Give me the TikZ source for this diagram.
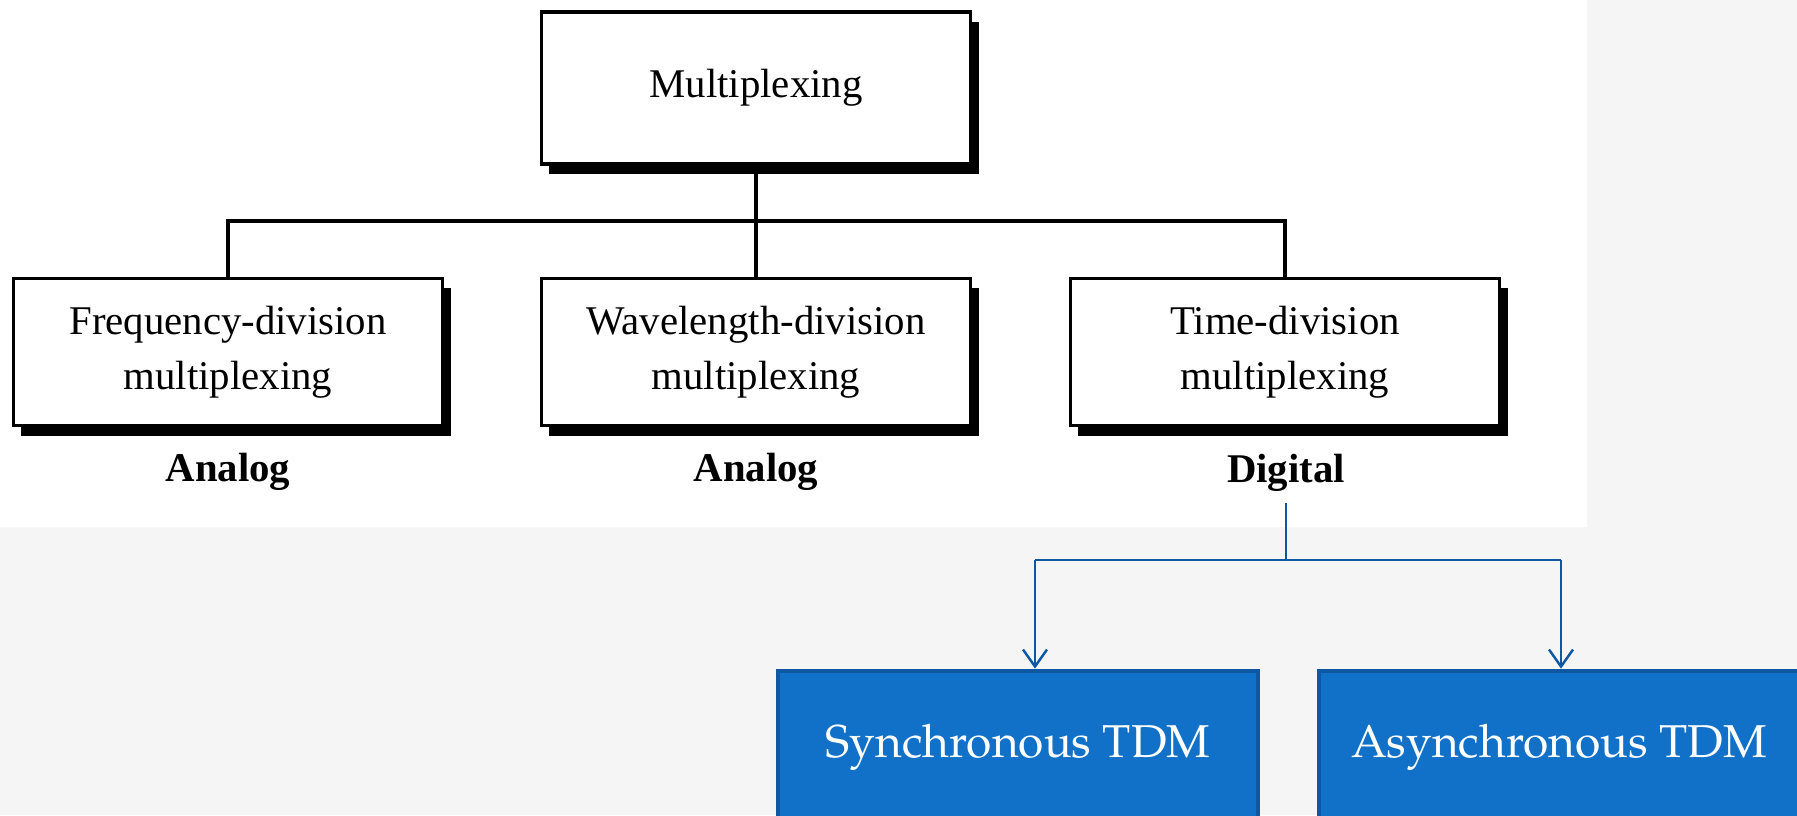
\documentclass[tikz,border=0pt]{standalone}
\usepackage[T1,TU]{fontenc}
\usepackage{fontspec}
\setmainfont{Liberation Serif}
\usetikzlibrary{arrows.meta}
\usetikzlibrary{shadows}
\definecolor{tdmblue}{RGB}{17,112,199}
\definecolor{tdmedge}{RGB}{14,88,163}
\definecolor{patgray}{RGB}{245,245,245}
\newcommand{\pagfont}{\fontencoding{T1}\fontfamily{ppl}\selectfont}

\begin{document}
\begin{tikzpicture}[x=0.01cm, y=-0.01cm,
  box/.style={draw=black, line width=1pt, fill=white, minimum width=4.29cm, minimum height=1.47cm, align=center,
    font=\fontsize{11.6}{15.5}\selectfont,
    drop shadow={shadow xshift=0.08cm, shadow yshift=-0.1cm, opacity=1, fill=black}},
  kind/.style={anchor=base, font=\fontsize{11.6}{14.5}\selectfont\bfseries},
  tdmbox/.style={draw=tdmedge, line width=1.3pt, fill=tdmblue, text=white, minimum width=4.8cm, minimum height=1.52cm,
    font=\pagfont\fontsize{13.1}{16}\selectfont},
  wire/.style={line width=1pt},
  bluewire/.style={draw=tdmedge, line width=0.7pt}]
\def\l{1.7mm}
\def\w{2.4mm}
\fill[patgray] (0,0) rectangle (1797,815);
\fill[white] (0,0) rectangle (1587,527);
\useasboundingbox (0,0) rectangle (1797,815);
\node[box, minimum height=1.52cm] (mux) at (756,88) {Multiplexing};
\node[box] (fdm) at (228,352) {Frequency-division\\multiplexing};
\node[box] (wdm) at (756,352) {Wavelength-division\\multiplexing};
\node[box] (tdm) at (1285,352) {Time-division\\multiplexing};
\node[kind] (fdmkind) at (228,481) {Analog};
\node[kind] (wdmkind) at (756,481) {Analog};
\node[kind] (tdmkind) at (1286,482) {Digital};
\node[tdmbox] (sync) at (1018,747) {Synchronous TDM};
\node[tdmbox] (async) at (1559,747) {Asynchronous TDM};
\coordinate (hub) at (756,221);
\coordinate (split) at (1286,560);
\coordinate (syncin) at (1035,560);
\coordinate (asyncin) at (1561,560);
\draw[wire] (mux) -- (hub);
\draw[wire] (fdm.north) |- (hub) -| (tdm.north);
\draw[wire] (hub) -- (wdm);
\draw[bluewire] (tdmkind) -- (split);
\draw[bluewire] (syncin) -- (asyncin);
\draw[bluewire, -{Straight Barb[length=\l, width=\w]}] (syncin) -- (syncin |- sync.north);
\draw[bluewire, -{Straight Barb[length=\l, width=\w]}] (asyncin) -- (asyncin |- async.north);
\end{tikzpicture}
\end{document}
